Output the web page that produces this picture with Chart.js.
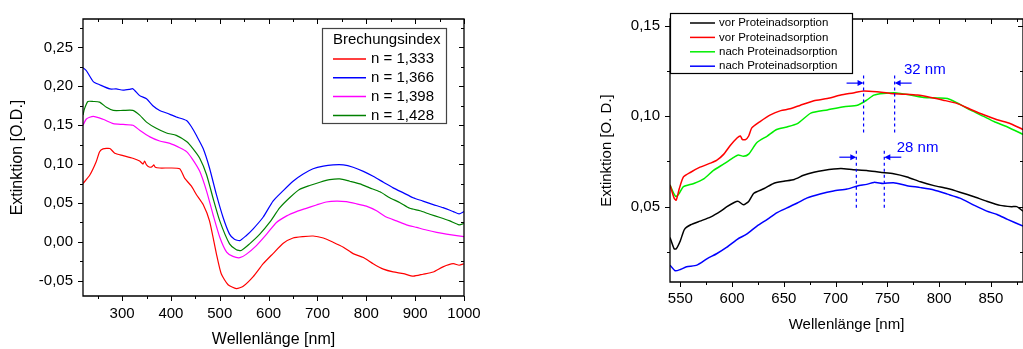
<!DOCTYPE html>
<html>
<head>
<meta charset="utf-8">
<script src="https://cdn.jsdelivr.net/npm/chart.js@4/dist/chart.umd.min.js"></script>
<style>
    html, body { margin: 0; padding: 0; background: #fff; overflow: hidden; }
    #left { position: absolute; left: 0; top: 0; }
    #right { position: absolute; left: 560px; top: 0; }
</style>
</head>
<body>
<canvas id="left" width="500" height="349"></canvas>
<canvas id="right" width="463" height="349"></canvas>
<script>
(function () {
    'use strict';

    // ---- left panel: Brechungsindex series ----
    var refractiveLabels = ['n = 1,333', 'n = 1,366', 'n = 1,398', 'n = 1,428'];
    var refractiveColors = ['#ff0000', '#0000ff', '#ff00ff', '#008000'];

    var wl1333 = [220, 234, 247, 254, 261, 275, 285, 302, 322, 336, 343, 346, 350, 357, 362, 365, 368, 377, 398, 418, 428, 442, 452, 466, 479, 493, 503, 517, 534, 548, 568, 589, 609, 630, 650, 670, 691, 712, 732, 753, 773, 794, 814, 835, 855, 876, 896, 916, 937, 957, 978, 990, 1000];
    var ext1333 = [0.075, 0.086, 0.103, 0.116, 0.1195, 0.120, 0.114, 0.111, 0.1076, 0.104, 0.100, 0.104, 0.099, 0.096, 0.097, 0.099, 0.096, 0.095, 0.095, 0.094, 0.082, 0.0716, 0.061, 0.048, 0.027, -0.015, -0.041, -0.055, -0.060, -0.057, -0.045, -0.028, -0.015, -0.0017, 0.005, 0.0068, 0.0076, 0.005, -0.0004, -0.0068, -0.015, -0.020, -0.028, -0.035, -0.0386, -0.0407, -0.044, -0.0415, -0.0386, -0.032, -0.028, -0.030, -0.028];

    var wl1366 = [220, 227, 241, 254, 275, 288, 302, 315, 322, 336, 350, 363, 377, 391, 411, 432, 442, 452, 466, 479, 493, 507, 520, 530, 541, 554, 568, 589, 609, 630, 650, 670, 691, 712, 732, 753, 773, 794, 814, 835, 855, 876, 896, 916, 937, 957, 978, 990, 1000];
    var ext1366 = [0.224, 0.220, 0.206, 0.202, 0.1966, 0.1966, 0.195, 0.196, 0.197, 0.188, 0.184, 0.175, 0.169, 0.1657, 0.1606, 0.156, 0.148, 0.137, 0.120, 0.095, 0.061, 0.031, 0.010, 0.0034, 0.0017, 0.008, 0.0165, 0.032, 0.0525, 0.066, 0.078, 0.087, 0.094, 0.0975, 0.099, 0.099, 0.096, 0.0907, 0.0843, 0.0767, 0.0695, 0.063, 0.0568, 0.0525, 0.048, 0.044, 0.039, 0.036, 0.039];

    var wl1398 = [220, 227, 241, 261, 282, 302, 322, 336, 357, 377, 398, 418, 432, 445, 459, 473, 486, 500, 514, 527, 541, 554, 575, 596, 616, 637, 657, 677, 698, 718, 739, 759, 780, 800, 821, 841, 862, 882, 903, 923, 944, 964, 985, 1000];
    var ext1398 = [0.150, 0.158, 0.1614, 0.1576, 0.152, 0.151, 0.150, 0.1436, 0.135, 0.1297, 0.1267, 0.121, 0.116, 0.1055, 0.0907, 0.0653, 0.0356, 0.006, -0.0131, -0.0186, -0.0203, -0.016, -0.0047, 0.010, 0.025, 0.0335, 0.039, 0.0432, 0.0475, 0.0513, 0.0525, 0.0517, 0.049, 0.046, 0.040, 0.032, 0.027, 0.022, 0.0186, 0.0153, 0.0123, 0.010, 0.008, 0.0068];

    var wl1428 = [220, 223, 230, 241, 254, 268, 282, 302, 322, 336, 350, 370, 391, 411, 432, 445, 459, 473, 486, 500, 520, 534, 544, 561, 582, 602, 623, 643, 663, 684, 705, 725, 746, 766, 787, 807, 828, 848, 869, 889, 910, 930, 951, 971, 990, 1000];
    var ext1428 = [0.163, 0.171, 0.1805, 0.1805, 0.1797, 0.173, 0.169, 0.169, 0.169, 0.163, 0.154, 0.146, 0.140, 0.137, 0.129, 0.120, 0.1076, 0.0864, 0.0568, 0.027, -0.0025, -0.010, -0.011, -0.0025, 0.010, 0.025, 0.044, 0.0568, 0.0674, 0.0725, 0.0767, 0.080, 0.081, 0.078, 0.0746, 0.0695, 0.0644, 0.0568, 0.0504, 0.0432, 0.040, 0.0356, 0.0314, 0.027, 0.022, 0.0237];

    // ---- right panel: Proteinadsorption series ----
    var adsorptionLabels = ['vor Proteinadsorption', 'vor Proteinadsorption', 'nach Proteinadsorption', 'nach Proteinadsorption'];
    var adsorptionColors = ['#000000', '#ff0000', '#00ee00', '#0000ff'];

    var wlVorA = [540, 544, 546, 550, 554, 560, 569, 579, 589, 595, 602, 606, 611, 616, 621, 631, 640, 650, 660, 669, 679, 688, 705, 717, 730, 743, 756, 769, 782, 795, 808, 820, 833, 846, 859, 870, 875, 881];
    var extVorA = [0.033, 0.0267, 0.0267, 0.0312, 0.0375, 0.040, 0.042, 0.0442, 0.0475, 0.050, 0.0523, 0.0529, 0.051, 0.0529, 0.0574, 0.060, 0.0628, 0.064, 0.065, 0.0673, 0.069, 0.070, 0.071, 0.0704, 0.070, 0.069, 0.0682, 0.0664, 0.0637, 0.0616, 0.060, 0.058, 0.0556, 0.053, 0.0507, 0.050, 0.050, 0.0475];

    var wlVorB = [540, 544, 546, 549, 553, 560, 569, 579, 585, 592, 598, 605, 608, 610, 613, 616, 619, 627, 637, 647, 656, 666, 679, 692, 705, 717, 727, 740, 753, 766, 779, 792, 804, 817, 830, 843, 856, 869, 881];
    var extVorB = [0.062, 0.0547, 0.0536, 0.060, 0.0664, 0.069, 0.0718, 0.074, 0.0755, 0.079, 0.0836, 0.088, 0.089, 0.087, 0.087, 0.089, 0.0935, 0.097, 0.1007, 0.103, 0.104, 0.106, 0.1085, 0.1097, 0.1116, 0.1128, 0.1139, 0.1134, 0.1125, 0.1121, 0.1116, 0.1103, 0.1088, 0.107, 0.1038, 0.1007, 0.098, 0.0958, 0.0926];

    var wlNachB = [540, 544, 546, 549, 553, 563, 573, 582, 592, 602, 606, 611, 616, 624, 634, 643, 653, 663, 676, 692, 708, 721, 730, 737, 746, 759, 772, 785, 798, 808, 817, 830, 843, 853, 866, 881];
    var extNachB = [0.062, 0.0569, 0.0556, 0.0574, 0.061, 0.0628, 0.0655, 0.070, 0.0736, 0.0773, 0.0785, 0.0778, 0.079, 0.0854, 0.089, 0.0926, 0.094, 0.0958, 0.1016, 0.1034, 0.1052, 0.106, 0.1088, 0.1116, 0.1125, 0.1128, 0.1116, 0.1103, 0.110, 0.1097, 0.1074, 0.1034, 0.0998, 0.097, 0.094, 0.0899];

    var wlNachA = [540, 545, 550, 556, 566, 576, 585, 595, 605, 614, 624, 634, 643, 653, 663, 672, 685, 698, 711, 721, 730, 737, 746, 756, 769, 782, 795, 808, 820, 833, 846, 856, 866, 881];
    var extNachA = [0.0177, 0.0146, 0.0153, 0.0168, 0.0177, 0.0213, 0.024, 0.0276, 0.032, 0.0348, 0.0393, 0.043, 0.0466, 0.0493, 0.052, 0.0547, 0.057, 0.0587, 0.0597, 0.0614, 0.0623, 0.0634, 0.0628, 0.0632, 0.0616, 0.0605, 0.0592, 0.0569, 0.0547, 0.051, 0.0475, 0.0457, 0.043, 0.0393];

    // Peak shift markers (wavelengths in nm, extinction in O.D.)
    var shiftLabels = ['32 nm', '28 nm'];
    var shiftFrom = [727, 720];
    var shiftTo = [757, 747];
    var shiftLow = [0.0894, 0.0478];
    var shiftHigh = [0.1224, 0.0809];
    var shiftArrowY = [0.1182, 0.0773];
    var shiftLabelX = [766, 759];
    var shiftLabelY = [0.1255, 0.0827];

    var FONT = '"Liberation Sans", Arial, sans-serif';
    var BLUE = '#0000ff';

    function points(xs, ys) {
        return xs.map(function (x, i) { return { x: x, y: ys[i] }; });
    }

    function commaFixed(v) {
        return v.toFixed(2).replace('.', ',').replace('-0,00', '0,00');
    }

    // keep only whole steps that lie inside the axis range
    function keepSteps(step) {
        return function (scale) {
            scale.ticks = scale.ticks.filter(function (t) {
                var r = t.value / step;
                return Math.abs(r - Math.round(r)) < 1e-6 &&
                    t.value >= scale.min - 1e-9 && t.value <= scale.max + 1e-9;
            });
        };
    }

    // Frame round the plot and Origin-style ticks on all four sides
    var frameTicks = {
        id: 'frameTicks',
        afterDatasetsDraw: function (chart, args, opts) {
            var ctx = chart.ctx, a = chart.chartArea;
            var xs = chart.scales.x, ys = chart.scales.y;
            ctx.save();
            ctx.strokeStyle = '#000';
            ctx.lineWidth = 1.3;
            ctx.beginPath();
            ctx.rect(a.left, a.top, a.right - a.left, a.bottom - a.top);
            ctx.stroke();
            ctx.lineWidth = 1;
            ctx.beginPath();
            var i, v, px, len;
            for (i = Math.ceil(xs.min / opts.xMinor - 1e-9); i * opts.xMinor <= xs.max + 1e-9; i++) {
                v = i * opts.xMinor;
                px = Math.round(xs.getPixelForValue(v)) + 0.5;
                len = i % 2 === 0 ? 5 : 3;
                ctx.moveTo(px, a.bottom); ctx.lineTo(px, a.bottom + len);
                ctx.moveTo(px, a.top); ctx.lineTo(px, a.top + len);
            }
            for (i = Math.ceil(ys.min / opts.yMinor - 1e-9); i * opts.yMinor <= ys.max + 1e-9; i++) {
                v = i * opts.yMinor;
                px = Math.round(ys.getPixelForValue(v)) + 0.5;
                len = i % 2 === 0 ? 5 : 3;
                ctx.moveTo(a.left - len, px); ctx.lineTo(a.left, px);
                ctx.moveTo(a.right - len, px); ctx.lineTo(a.right, px);
            }
            ctx.stroke();
            ctx.restore();
        }
    };

    // Boxed legend drawn from the dataset labels and colours
    var boxLegend = {
        id: 'boxLegend',
        afterDraw: function (chart, args, opts) {
            var ctx = chart.ctx, b = opts.box;
            ctx.save();
            ctx.fillStyle = '#fff';
            ctx.fillRect(b.x, b.y, b.w, b.h);
            ctx.strokeStyle = opts.border;
            ctx.lineWidth = 1.2;
            ctx.strokeRect(b.x + 0.5, b.y + 0.5, b.w, b.h);
            ctx.font = opts.size + 'px ' + FONT;
            ctx.textBaseline = 'middle';
            ctx.fillStyle = '#000';
            if (opts.title) {
                ctx.fillText(opts.title, opts.lineX, opts.titleY);
            }
            chart.data.datasets.forEach(function (ds, i) {
                var y = opts.firstY + i * opts.rowH;
                ctx.strokeStyle = ds.borderColor;
                ctx.lineWidth = 1.5;
                ctx.beginPath();
                ctx.moveTo(opts.lineX, y);
                ctx.lineTo(opts.lineX + opts.lineW, y);
                ctx.stroke();
                ctx.fillStyle = '#000';
                ctx.fillText(ds.label, opts.lineX + opts.lineW + opts.gap, y);
            });
            ctx.restore();
        }
    };

    // Dashed peak markers with arrows and shift labels
    var peakShift = {
        id: 'peakShift',
        afterDatasetsDraw: function (chart) {
            var ctx = chart.ctx, xs = chart.scales.x, ys = chart.scales.y;
            ctx.save();
            ctx.strokeStyle = BLUE;
            ctx.fillStyle = BLUE;
            shiftLabels.forEach(function (label, i) {
                var x1 = xs.getPixelForValue(shiftFrom[i]);
                var x2 = xs.getPixelForValue(shiftTo[i]);
                var yLo = ys.getPixelForValue(shiftLow[i]);
                var yHi = ys.getPixelForValue(shiftHigh[i]);
                var yA = ys.getPixelForValue(shiftArrowY[i]);
                ctx.lineWidth = 1.2;
                ctx.setLineDash([3, 3]);
                ctx.beginPath();
                ctx.moveTo(x1, yHi); ctx.lineTo(x1, yLo);
                ctx.moveTo(x2, yHi); ctx.lineTo(x2, yLo);
                ctx.stroke();
                ctx.setLineDash([]);
                arrow(ctx, x1 - 17, x1, yA);
                arrow(ctx, x2 + 17, x2, yA);
                ctx.font = '15px ' + FONT;
                ctx.textBaseline = 'middle';
                ctx.fillText(label, xs.getPixelForValue(shiftLabelX[i]), ys.getPixelForValue(shiftLabelY[i]));
            });
            ctx.restore();
        }
    };

    function arrow(ctx, from, to, y) {
        var dir = to > from ? 1 : -1;
        ctx.lineWidth = 1.2;
        ctx.beginPath();
        ctx.moveTo(from, y);
        ctx.lineTo(to - dir * 4, y);
        ctx.stroke();
        ctx.beginPath();
        ctx.moveTo(to, y);
        ctx.lineTo(to - dir * 6, y - 3);
        ctx.lineTo(to - dir * 6, y + 3);
        ctx.closePath();
        ctx.fill();
    }

    function lineDatasets(labels, colors, xsList, ysList, width) {
        return labels.map(function (label, i) {
            return {
                label: label,
                data: points(xsList[i], ysList[i]),
                borderColor: colors[i],
                backgroundColor: colors[i],
                borderWidth: width,
                pointRadius: 0,
                tension: 0.2,
                fill: false
            };
        });
    }

    function axis(opts) {
        return {
            type: 'linear',
            min: opts.min,
            max: opts.max,
            grid: { display: false, drawTicks: false },
            border: { display: false },
            afterBuildTicks: keepSteps(opts.step),
            afterFit: opts.fit,
            ticks: {
                stepSize: opts.step,
                includeBounds: false,
                padding: opts.pad,
                color: '#000',
                font: { family: FONT, size: 15 },
                maxRotation: 0,
                autoSkip: false,
                callback: opts.fmt
            },
            title: {
                display: true,
                text: opts.title,
                color: '#000',
                font: { family: FONT, size: opts.titleSize },
                padding: opts.titlePad
            }
        };
    }

    Chart.defaults.font.family = FONT;

    new Chart(document.getElementById('left'), {
        type: 'line',
        data: {
            datasets: lineDatasets(refractiveLabels, refractiveColors,
                [wl1333, wl1366, wl1398, wl1428], [ext1333, ext1366, ext1398, ext1428], 1.2)
        },
        options: {
            responsive: false,
            animation: false,
            devicePixelRatio: 1,
            layout: { padding: { left: 0, top: 16, right: 36, bottom: 0 } },
            plugins: {
                legend: { display: false },
                tooltip: { enabled: false },
                frameTicks: { xMinor: 50, yMinor: 0.025 },
                boxLegend: {
                    box: { x: 322, y: 28, w: 124, h: 95 },
                    border: '#444',
                    size: 15,
                    title: 'Brechungsindex',
                    titleY: 40,
                    lineX: 333, lineW: 33, gap: 5,
                    firstY: 59, rowH: 18.8
                }
            },
            scales: {
                x: axis({
                    min: 220, max: 1000, step: 100, pad: 9,
                    fit: function (s) { s.height = 53; },
                    fmt: function (v) { return String(v); },
                    title: 'Wellenlänge [nm]', titleSize: 16, titlePad: { top: 0, bottom: 0 }
                }),
                y: axis({
                    min: -0.0695, max: 0.2865, step: 0.05, pad: 10,
                    fit: function (s) { s.width = 83; },
                    fmt: commaFixed,
                    title: 'Extinktion [O.D.]', titleSize: 16, titlePad: { top: 8, bottom: 0 }
                })
            }
        },
        plugins: [frameTicks, boxLegend]
    });

    new Chart(document.getElementById('right'), {
        type: 'line',
        data: {
            datasets: lineDatasets(adsorptionLabels, adsorptionColors,
                [wlVorA, wlVorB, wlNachB, wlNachA], [extVorA, extVorB, extNachB, extNachA], 1.5)
        },
        options: {
            responsive: false,
            animation: false,
            devicePixelRatio: 1,
            layout: { padding: { left: 0, top: 14, right: 0, bottom: 0 } },
            plugins: {
                legend: { display: false },
                tooltip: { enabled: false },
                frameTicks: { xMinor: 25, yMinor: 0.025 },
                boxLegend: {
                    box: { x: 110, y: 13, w: 182, h: 60 },
                    border: '#000',
                    size: 11.5,
                    title: '',
                    lineX: 130, lineW: 25, gap: 4,
                    firstY: 23, rowH: 14.4
                }
            },
            scales: {
                x: axis({
                    min: 540, max: 881, step: 50, pad: 8,
                    fit: function (s) { s.height = 67; },
                    fmt: function (v) { return String(v); },
                    title: 'Wellenlänge [nm]', titleSize: 15, titlePad: { top: 0, bottom: 15 }
                }),
                y: axis({
                    min: 0.0084, max: 0.1536, step: 0.05, pad: 10,
                    fit: function (s) { s.width = 110; },
                    fmt: commaFixed,
                    title: 'Extinktion [O. D.]', titleSize: 15, titlePad: { top: 38, bottom: 0 }
                })
            }
        },
        plugins: [frameTicks, peakShift, boxLegend]
    });
})();
</script>
</body>
</html>
